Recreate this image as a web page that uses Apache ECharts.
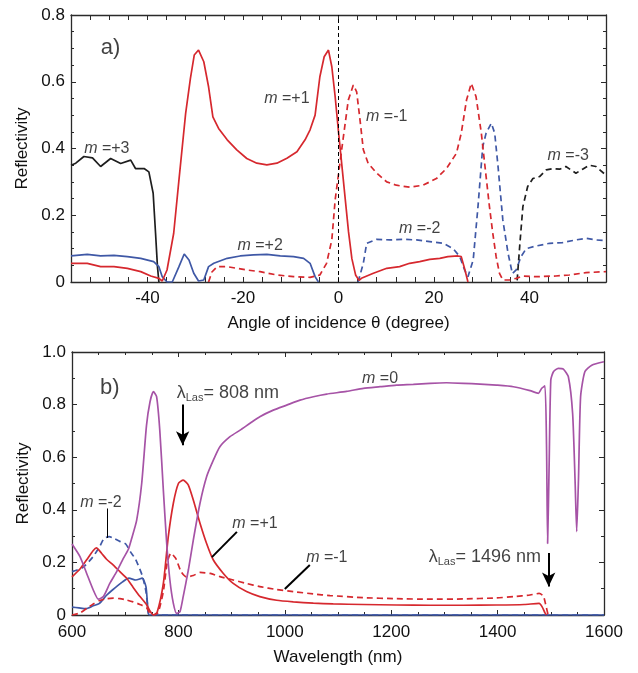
<!DOCTYPE html>
<html><head><meta charset="utf-8">
<script src="https://cdn.jsdelivr.net/npm/echarts@6/dist/echarts.min.js"></script>
<style>html,body{margin:0;padding:0;background:#fff}#c{width:638px;height:673px}</style>
</head><body><div id="c"></div>
<script>
// ---------- Panel a: reflectivity vs angle of incidence (degree) ----------
const aMplus3 = [[-56,0.35],[-55,0.356],[-53.3,0.376],[-51.5,0.372],[-49.8,0.346],[-47.7,0.37],[-45.6,0.355],[-43.5,0.365],[-42.5,0.34],[-40.7,0.34],[-39.7,0.33],[-38.8,0.266],[-38.3,0.146],[-37.9,0.046],[-37.6,0]];
const aMplus1 = [[-56,0.056],[-52.6,0.056],[-49.8,0.046],[-47,0.046],[-44.2,0.041],[-41.4,0.031],[-39.3,0.018],[-37.6,0.011],[-36.9,0.003],[-35.9,0.036],[-34.5,0.146],[-33.4,0.306],[-32,0.505],[-31,0.61],[-30.2,0.68],[-29.3,0.695],[-28.2,0.66],[-27.2,0.585],[-26.3,0.495],[-25.1,0.46],[-23.3,0.426],[-21.3,0.396],[-19.2,0.37],[-17.1,0.356],[-15,0.351],[-12.9,0.356],[-10.8,0.371],[-8.7,0.39],[-7,0.426],[-5.95,0.456],[-4.9,0.5],[-3.9,0.615],[-3,0.675],[-2.1,0.695],[-1.4,0.645],[-0.7,0.555],[0,0.45],[0.7,0.35],[1.4,0.25],[2.1,0.15],[2.8,0.07],[3.6,0.02],[4.3,0.005],[4.8,0.011],[7.3,0.026],[10.1,0.041],[12.8,0.046],[14.9,0.056],[17,0.061],[19.1,0.068],[21.2,0.071],[22.9,0.076],[25,0.078],[25.7,0.076],[26.4,0.04],[27.1,0]];
const aMplus2 = [[-56,0.078],[-52.6,0.083],[-49.8,0.078],[-47,0.08],[-44.2,0.076],[-41.4,0.071],[-38.7,0.061],[-37.6,0.046],[-36.9,0.016],[-35.9,0],[-34.8,0],[-33.4,0.046],[-32.3,0.084],[-31.3,0.066],[-30.3,0.026],[-29.3,0.003],[-28.2,0.006],[-27.2,0.046],[-26.1,0.056],[-23.3,0.071],[-20.6,0.078],[-17.8,0.081],[-15,0.083],[-12.2,0.078],[-9.4,0.076],[-7.3,0.071],[-5.95,0.056],[-4.9,0.016],[-4.2,0]];
const aMminus1 = [[-27.2,0],[-26.5,0.03],[-25.4,0.046],[-23.3,0.046],[-19.2,0.036],[-16.4,0.031],[-12.9,0.021],[-9.4,0.016],[-5.95,0.014],[-3.9,0.021],[-2.5,0.056],[-1.4,0.126],[-0.7,0.246],[0.66,0.396],[2.05,0.545],[3.1,0.59],[3.8,0.57],[4.5,0.486],[5.2,0.396],[6.2,0.356],[8,0.326],[10.1,0.3],[12.1,0.29],[14.9,0.284],[17.7,0.29],[20.5,0.31],[22.6,0.34],[24.7,0.386],[25.7,0.446],[26.8,0.545],[27.8,0.595],[28.8,0.555],[29.9,0.446],[30.9,0.316],[31.6,0.226],[32.3,0.146],[33,0.076],[33.7,0.026],[34.4,0.006],[35.8,0.006],[37.2,0.011],[38.6,0.018],[41.4,0.016],[45.5,0.018],[48.3,0.021],[51.8,0.028],[56,0.031]];
const aMminus2 = [[4.1,0],[5.2,0.056],[5.9,0.116],[8,0.128],[10.8,0.126],[13.5,0.128],[16.3,0.126],[19.1,0.121],[21.9,0.116],[24,0.1],[25.4,0.076],[26.4,0.036],[27.1,0.016],[28.2,0.066],[29.2,0.226],[30.2,0.406],[30.9,0.446],[32,0.476],[32.7,0.446],[33.4,0.346],[34.4,0.186],[35.5,0.086],[36.4,0.025],[37.2,0.036],[38.2,0.076],[39.3,0.1],[41.4,0.108],[44.2,0.116],[46.9,0.118],[49.7,0.126],[51.8,0.131],[53.9,0.126],[56,0.124]];
const aMminus3 = [[37.4,0.005],[38,0.12],[38.6,0.226],[39.6,0.286],[40.7,0.31],[42.1,0.316],[43.5,0.336],[44.9,0.34],[46.3,0.338],[47.6,0.346],[49.7,0.326],[51.1,0.338],[52.5,0.35],[53.9,0.346],[56,0.32]];
const aXTicks = [-40, -20, 0, 20, 40];

// ---------- Panel b: reflectivity vs wavelength (nm) ----------
const bM0 = [[600,0.27],[615,0.222],[627.6,0.158],[640,0.095],[649.5,0.06],[659,0.07],[671,0.12],[684,0.165],[696.5,0.215],[706,0.25],[712,0.29],[721.5,0.36],[731,0.5],[740,0.72],[746.6,0.81],[753,0.849],[759,0.83],[765,0.703],[771.7,0.475],[778,0.272],[784,0.133],[790.5,0.044],[796.7,0.006],[803,0.013],[809,0.07],[818.7,0.171],[828,0.285],[840.6,0.425],[853,0.526],[865.7,0.589],[878,0.64],[897,0.678],[916,0.703],[934.6,0.729],[953,0.754],[978.4,0.779],[1003.5,0.798],[1028.6,0.817],[1053.6,0.83],[1078.7,0.84],[1116,0.85],[1147.7,0.862],[1179,0.868],[1210,0.874],[1241.6,0.877],[1273,0.881],[1304,0.883],[1335.6,0.881],[1367,0.878],[1398,0.874],[1429.6,0.868],[1461,0.853],[1476.6,0.843],[1483,0.862],[1489,0.871],[1492,0.64],[1494,0.272],[1496.7,0.55],[1500,0.894],[1505,0.925],[1514,0.938],[1523.6,0.935],[1533,0.906],[1541,0.767],[1545.6,0.513],[1548.7,0.317],[1552,0.513],[1556,0.83],[1564,0.925],[1577,0.95],[1600,0.963]];
const bMplus1 = [[600,0.145],[615,0.175],[627.6,0.21],[640,0.245],[646,0.255],[655.8,0.234],[665,0.212],[677.7,0.19],[690,0.165],[702.8,0.14],[715,0.105],[727.8,0.07],[740,0.04],[746.6,0.015],[753,0],[760,0.01],[771.7,0.12],[781,0.298],[790.5,0.425],[800,0.5],[809,0.513],[818.7,0.494],[828,0.437],[840.6,0.349],[853,0.272],[865.7,0.209],[884.5,0.158],[903,0.12],[928,0.089],[953,0.07],[984.7,0.056],[1016,0.05],[1053.6,0.045],[1091,0.042],[1147,0.04],[1210,0.038],[1273,0.037],[1335,0.037],[1398,0.038],[1450,0.04],[1478,0.044],[1484,0.03],[1489,0.008],[1492,0]];
const bMminus1 = [[600,0],[615,0.008],[627.6,0.025],[640,0.042],[652,0.055],[665,0.062],[677.7,0.064],[690,0.062],[702.8,0.057],[715,0.05],[727.8,0.04],[740,0.028],[746.6,0.006],[753,0],[762,0.01],[771.7,0.09],[779,0.2],[786,0.235],[795,0.215],[805,0.165],[815,0.145],[828,0.15],[840.6,0.162],[860,0.158],[878,0.146],[903,0.133],[928,0.12],[953,0.108],[984.7,0.097],[1016,0.089],[1053.6,0.08],[1085,0.074],[1147,0.066],[1210,0.062],[1273,0.06],[1335,0.061],[1398,0.065],[1430,0.07],[1461,0.076],[1478,0.082],[1486,0.072],[1491,0.034],[1495,0]];
const bMplus2 = [[600,0.03],[613,0.027],[626,0.024],[640,0.035],[651,0.043],[665,0.075],[676,0.095],[695,0.126],[707,0.14],[720,0.133],[732,0.14],[739,0.108],[742,0.04],[745,0],[1600,0]];
const bMminus2 = [[600,0.165],[620,0.18],[639,0.22],[652,0.26],[660,0.29],[670,0.298],[680,0.29],[690,0.28],[701,0.27],[710,0.24],[720,0.21],[732,0.15],[739,0.09],[743,0.02],[746,0],[1600,0]];
const bXTicks = [600, 800, 1000, 1200, 1400, 1600];

const FONT = "'Liberation Sans', Arial, Helvetica, sans-serif";
const RED = '#d6282e', BLUE = '#3f58a6', PURPLE = '#a653a6', BLACK = '#1e1e1e';
const AXC = '#2a2a2a';
const TXT = '#111';

function yFmt(v){ return v === 0 ? '0' : v.toFixed(1); }

function baseAxis(extra){
  return Object.assign({
    type:'value',
    axisLine:{show:true,onZero:false,lineStyle:{color:AXC,width:1.3}},
    axisTick:{show:true,inside:true,length:5,lineStyle:{color:AXC,width:1}},
    minorTick:{show:false},
    splitLine:{show:false},
    axisLabel:{show:true,color:TXT,fontSize:17,fontFamily:FONT},
    nameTextStyle:{color:TXT,fontSize:17,fontFamily:FONT}
  }, extra);
}

const chart = echarts.init(document.getElementById('c'), null, {renderer:'canvas'});

const richM = {
  i:{fontStyle:'italic',fontSize:16,fontFamily:FONT,color:TXT},
  n:{fontSize:18,fontFamily:FONT,color:TXT,lineHeight:20},
  s:{fontSize:11,fontFamily:FONT,color:TXT,lineHeight:11,verticalAlign:'bottom'}
};

function lineSeries(data, color, dashed, xi, yi, extra){
  return Object.assign({
    type:'line', data:data, xAxisIndex:xi, yAxisIndex:yi,
    showSymbol:false, symbol:'none', smooth:false, animation:false, silent:true,
    lineStyle:{color:color,width:1.7,type: dashed ? [6,4] : 'solid'},
    z:3
  }, extra||{});
}

function labelSeries(items, xi, yi){
  return {
    type:'scatter', xAxisIndex:xi, yAxisIndex:yi, symbolSize:1, silent:true, animation:false,
    itemStyle:{color:'transparent'},
    label:{show:true,position:'inside',color:TXT,fontSize:16,fontFamily:FONT,rich:richM},
    data: items.map(function(it){ return {value:it[0], label:Object.assign({formatter:it[1]}, it[2]||{})}; }),
    z:5
  };
}

const option = {
  backgroundColor:'#fff',
  animation:false,
  grid:[
    {left:71, top:15, width:535, height:267},
    {left:72, top:352, width:532, height:263}
  ],
  xAxis:[
    baseAxis({gridIndex:0, position:'bottom', min:-56, max:56, interval:4,
      axisLabel:{color:TXT,fontSize:17,fontFamily:FONT,margin:8,
        formatter:function(v){ return aXTicks.indexOf(v) >= 0 ? String(v) : ''; }},
      name:'Angle of incidence \u03b8 (degree)', nameLocation:'middle', nameGap:33}),
    baseAxis({gridIndex:0, position:'top', min:-56, max:56, interval:4, axisLabel:{show:false}}),
    baseAxis({gridIndex:1, position:'bottom', min:600, max:1600, interval:200,
      minorTick:{show:true,splitNumber:4,length:3,lineStyle:{color:AXC,width:1}},
      axisLabel:{color:TXT,fontSize:17,fontFamily:FONT,margin:9,
        formatter:function(v){ return bXTicks.indexOf(v) >= 0 ? String(v) : ''; }},
      name:'Wavelength (nm)', nameLocation:'middle', nameGap:34}),
    baseAxis({gridIndex:1, position:'top', min:600, max:1600, interval:200,
      minorTick:{show:true,splitNumber:4,length:3,lineStyle:{color:AXC,width:1}},
      axisLabel:{show:false}})
  ],
  yAxis:[
    baseAxis({gridIndex:0, position:'left', min:0, max:0.8, interval:0.2,
      minorTick:{show:true,splitNumber:4,length:3,lineStyle:{color:AXC,width:1}},
      axisLabel:{color:TXT,fontSize:17,fontFamily:FONT,margin:6,formatter:yFmt},
      name:'Reflectivity', nameLocation:'middle', nameGap:36, nameRotate:90}),
    baseAxis({gridIndex:0, position:'right', min:0, max:0.8, interval:0.2,
      minorTick:{show:true,splitNumber:4,length:3,lineStyle:{color:AXC,width:1}},
      axisLabel:{show:false}}),
    baseAxis({gridIndex:1, position:'left', min:0, max:1.0, interval:0.2,
      minorTick:{show:true,splitNumber:2,length:3,lineStyle:{color:AXC,width:1}},
      axisLabel:{color:TXT,fontSize:17,fontFamily:FONT,margin:6,formatter:yFmt},
      name:'Reflectivity', nameLocation:'middle', nameGap:36, nameRotate:90}),
    baseAxis({gridIndex:1, position:'right', min:0, max:1.0, interval:0.2,
      minorTick:{show:true,splitNumber:2,length:3,lineStyle:{color:AXC,width:1}},
      axisLabel:{show:false}})
  ],
  series:[
    // panel a
    lineSeries(aMplus3, BLACK, false, 0, 0),
    lineSeries(aMplus2, BLUE, false, 0, 0),
    lineSeries(aMminus2, BLUE, true, 0, 0),
    lineSeries(aMminus3, BLACK, true, 0, 0),
    lineSeries(aMminus1, RED, true, 0, 0),
    lineSeries(aMplus1, RED, false, 0, 0, {
      markLine:{silent:true, animation:false, symbol:['none','none'], label:{show:false},
        lineStyle:{color:'#000',width:1,type:[4,3]},
        data:[{xAxis:0}]}
    }),
    labelSeries([
      [[-47.7,0.70],'a)',{fontSize:22}],
      [[-48.5,0.40],'{i|m} =+3'],
      [[-10.8,0.55],'{i|m} =+1'],
      [[-16.4,0.108],'{i|m} =+2'],
      [[10.1,0.497],'{i|m} =-1'],
      [[17.0,0.159],'{i|m} =-2'],
      [[48.1,0.378],'{i|m} =-3']
    ], 0, 0),
    // panel b
    lineSeries(bMplus2, BLUE, false, 2, 2, {smooth:0.2}),
    lineSeries(bMminus2, BLUE, true, 2, 2, {smooth:0.2}),
    lineSeries(bMminus1, RED, true, 2, 2, {smooth:0.2}),
    lineSeries(bMplus1, RED, false, 2, 2, {smooth:0.2}),
    lineSeries(bM0, PURPLE, false, 2, 2, {smooth:0.2,
      markLine:{silent:true, animation:false, symbol:['none','arrow'], symbolSize:[10,14], label:{show:false},
        lineStyle:{color:'#000',width:2,type:'solid'},
        data:[
          [{coord:[808,0.80]},{coord:[808,0.645]}],
          [{coord:[1496,0.236]},{coord:[1496,0.108]}],
          [{coord:[665.8,0.405],symbol:'none'},{coord:[665.8,0.293],symbol:'none',lineStyle:{width:1}}],
          [{coord:[910,0.316],symbol:'none'},{coord:[863,0.22],symbol:'none'}],
          [{coord:[1047,0.19],symbol:'none'},{coord:[1000,0.099],symbol:'none'}]
        ]}
    }),
    labelSeries([
      [[671,0.863],'b)',{fontSize:22}],
      [[1179,0.90],'{i|m} =0'],
      [[654.5,0.426],'{i|m} =-2'],
      [[944,0.346],'{i|m} =+1'],
      [[1079,0.22],'{i|m} =-1'],
      [[893,0.844],'{n|\u03bb}{s|Las}{n|= 808 nm}'],
      [[1376,0.22],'{n|\u03bb}{s|Las}{n|= 1496 nm}']
    ], 2, 2)
  ]
};
chart.setOption(option);
</script></body></html>
